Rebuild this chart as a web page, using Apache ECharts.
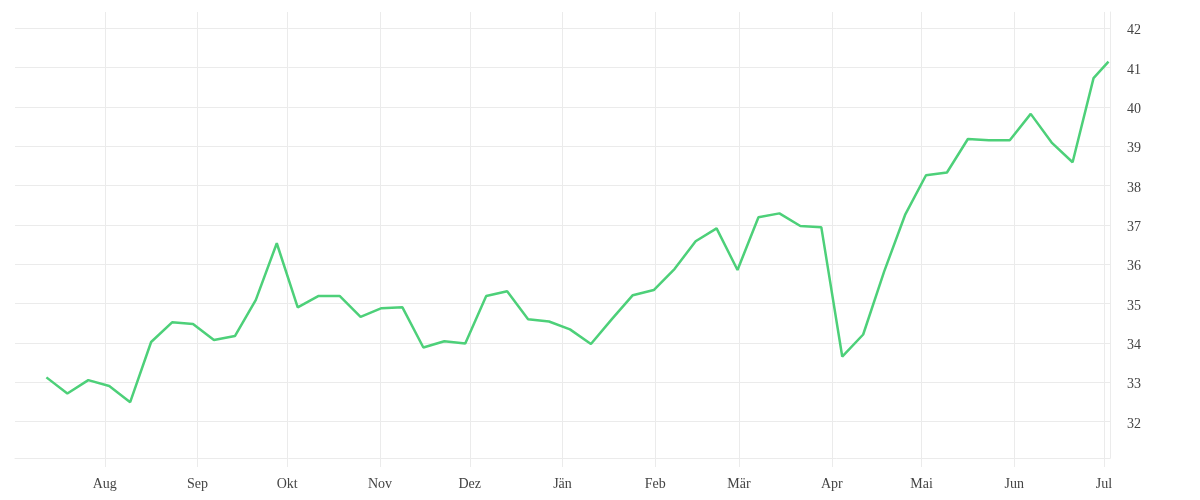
<!DOCTYPE html>
<html>
<head>
<meta charset="utf-8">
<script src="https://cdn.jsdelivr.net/npm/echarts@6/dist/echarts.min.js"></script>
<style>html,body{margin:0;padding:0;background:#fff}#chart{width:1200px;height:500px}</style>
</head>
<body>
<div id="chart"></div>
<script>
// ---- data ----
const dates = [
  '2022-07-12','2022-07-19','2022-07-26','2022-08-02','2022-08-09','2022-08-16','2022-08-23','2022-08-30',
  '2022-09-06','2022-09-13','2022-09-20','2022-09-27','2022-10-04','2022-10-11','2022-10-18','2022-10-25',
  '2022-11-01','2022-11-08','2022-11-15','2022-11-22','2022-11-29','2022-12-06','2022-12-13','2022-12-20',
  '2022-12-27','2023-01-03','2023-01-10','2023-01-17','2023-01-24','2023-01-31','2023-02-07','2023-02-14',
  '2023-02-21','2023-02-28','2023-03-07','2023-03-14','2023-03-21','2023-03-28','2023-04-04','2023-04-11',
  '2023-04-18','2023-04-25','2023-05-02','2023-05-09','2023-05-16','2023-05-23','2023-05-30','2023-06-06',
  '2023-06-13','2023-06-20','2023-06-27','2023-07-02'
];
const values = [
  33.12, 32.71, 33.05, 32.90, 32.49, 34.02, 34.52, 34.48, 34.07, 34.17,
  35.09, 36.53, 34.90, 35.19, 35.19, 34.66, 34.88, 34.90, 33.88, 34.04,
  33.98, 35.19, 35.31, 34.60, 34.54, 34.34, 33.97, 34.60, 35.21, 35.34,
  35.88, 36.58, 36.91, 35.85, 37.19, 37.29, 36.97, 36.94, 33.65, 34.21,
  35.81, 37.25, 38.26, 38.33, 39.18, 39.15, 39.15, 39.82, 39.09, 38.59,
  40.73, 41.15
];
const monthLabels = ['Jän','Feb','Mär','Apr','Mai','Jun','Jul','Aug','Sep','Okt','Nov','Dez'];
const xStart = '2022-07-02';
const xEnd = '2023-07-03';
const yMin = 31.07;
const yMax = 42.41;
const hiddenYLabels = [31];

// ---- chart ----
const toTime = s => new Date(s + 'T12:00:00').getTime();
const seriesData = dates.map((d, i) => [toTime(d), values[i]]);
const grid = '#ebebeb';
const chart = echarts.init(document.getElementById('chart'));
chart.setOption({
  animation: false,
  textStyle: { fontFamily: 'Liberation Serif' },
  grid: { left: 15, right: 90, top: 12, bottom: 42 },
  xAxis: {
    type: 'time',
    min: new Date(xStart + 'T00:00:00').getTime(),
    max: new Date(xEnd + 'T00:00:00').getTime(),
    splitNumber: 12,
    axisLine: { show: true, lineStyle: { color: grid, width: 1 } },
    axisTick: { show: true, length: 9, lineStyle: { color: grid, width: 1 } },
    splitLine: { show: true, showMinLine: false, lineStyle: { color: grid, width: 1 } },
    axisLabel: {
      showMinLabel: false,
      showMaxLabel: false,
      margin: 19,
      color: '#444',
      fontSize: 14,
      fontFamily: 'Liberation Serif',
      formatter: v => monthLabels[new Date(v).getMonth()]
    }
  },
  yAxis: {
    type: 'value',
    position: 'right',
    min: yMin,
    max: yMax,
    minInterval: 1,
    maxInterval: 1,
    axisLine: { show: true, lineStyle: { color: grid, width: 1 } },
    axisTick: { show: false },
    splitLine: { show: true, showMinLine: false, showMaxLine: false, lineStyle: { color: grid, width: 1 } },
    axisLabel: {
      showMinLabel: false,
      showMaxLabel: false,
      margin: 17,
      color: '#444',
      fontSize: 14,
      fontFamily: 'Liberation Serif',
      formatter: v => (hiddenYLabels.includes(v) ? '' : '{t|' + v + '}'),
      rich: {
        t: { padding: [5, 0, 0, 0], color: '#444', fontSize: 14, fontFamily: 'Liberation Serif' }
      }
    }
  },
  series: [{
    type: 'line',
    data: seriesData,
    showSymbol: false,
    symbol: 'none',
    lineStyle: { color: '#4dd079', width: 2.5 },
    itemStyle: { color: '#4dd079' }
  }]
});
</script>
</body>
</html>
